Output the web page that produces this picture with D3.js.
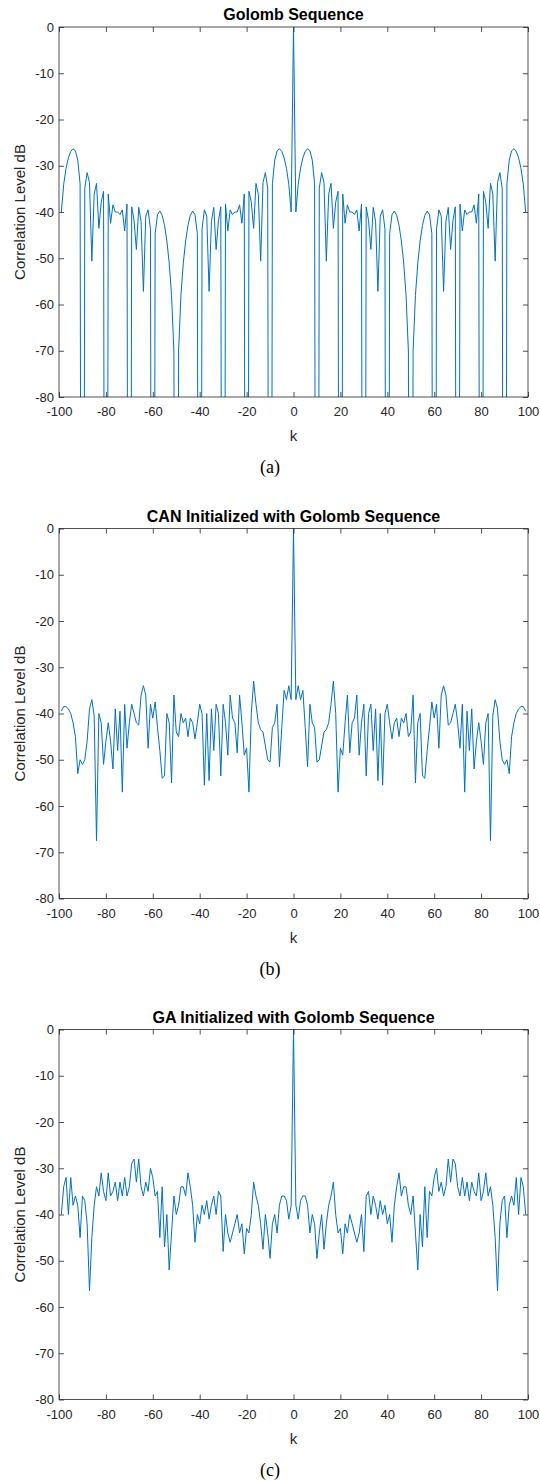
<!DOCTYPE html>
<html><head><meta charset="utf-8">
<script src="https://cdn.jsdelivr.net/npm/d3@7"></script>
<style>body{margin:0;background:#fff}svg{display:block}</style>
</head><body>
<svg id="c" width="540" height="1481"></svg>
<script>
// ---- data ----
const xTicks = [-100,-80,-60,-40,-20,0,20,40,60,80,100];
const yTicks = [0,-10,-20,-30,-40,-50,-60,-70,-80];
const titles = ["Golomb Sequence","CAN Initialized with Golomb Sequence","GA Initialized with Golomb Sequence"];
const captions = ["(a)","(b)","(c)"];
const xLabel = "k";
const yLabel = "Correlation Level dB";
const lags = d3.range(-99,100);

// (a) Golomb sequence, k=-99..99
const golomb = [
-40.00,-34.00,-30.56,-28.30,-26.90,-26.32,-26.78,-28.78,-33.91,-300,
-34.85,-31.48,-33.63,-50.62,-36.15,-33.82,-43.53,-37.87,-35.53,-300,
-36.10,-42.43,-38.46,-40.00,-40.00,-40.54,-39.55,-44.08,-38.30,-300,
-38.88,-41.82,-48.10,-39.01,-42.01,-57.17,-40.90,-39.53,-43.72,-300,
-44.65,-40.59,-39.79,-40.71,-42.90,-46.27,-51.05,-58.02,-70.06,-300,
-70.06,-58.02,-51.05,-46.27,-42.90,-40.71,-39.79,-40.59,-44.65,-300,
-43.72,-39.53,-40.90,-57.17,-42.01,-39.01,-48.10,-41.82,-38.88,-300,
-38.30,-44.08,-39.55,-40.54,-40.00,-40.00,-38.46,-42.43,-36.10,-300,
-35.53,-37.87,-43.53,-33.82,-36.15,-50.62,-33.63,-31.48,-34.85,-300,
-33.91,-28.78,-26.78,-26.32,-26.90,-28.30,-30.56,-34.00,-40.00,
0,
-40.00,-34.00,-30.56,-28.30,-26.90,-26.32,-26.78,-28.78,-33.91,-300,
-34.85,-31.48,-33.63,-50.62,-36.15,-33.82,-43.53,-37.87,-35.53,-300,
-36.10,-42.43,-38.46,-40.00,-40.00,-40.54,-39.55,-44.08,-38.30,-300,
-38.88,-41.82,-48.10,-39.01,-42.01,-57.17,-40.90,-39.53,-43.72,-300,
-44.65,-40.59,-39.79,-40.71,-42.90,-46.27,-51.05,-58.02,-70.06,-300,
-70.06,-58.02,-51.05,-46.27,-42.90,-40.71,-39.79,-40.59,-44.65,-300,
-43.72,-39.53,-40.90,-57.17,-42.01,-39.01,-48.10,-41.82,-38.88,-300,
-38.30,-44.08,-39.55,-40.54,-40.00,-40.00,-38.46,-42.43,-36.10,-300,
-35.53,-37.87,-43.53,-33.82,-36.15,-50.62,-33.63,-31.48,-34.85,-300,
-33.91,-28.78,-26.78,-26.32,-26.90,-28.30,-30.56,-34.00,-40.00
];

// (b) CAN initialized with Golomb, k=-99..99
const canSeq = [
-39.5,-38.5,-38.5,-39,-40,-42,-45,-53,-50,
-51,-50,-46,-39,-37,-40.5,-67.5,-40,-42,-51,
-46,-42,-46,-52,-39,-48,-39.5,-57,-38,-47.5,
-42,-38,-40,-42,-42.5,-36,-34,-36,-47.5,-38,
-41,-37.5,-43,-48,-54,-53.5,-40,-42,-55,-36,
-44,-45,-40,-42,-41,-45,-41,-42,-45.5,-42,
-38,-40,-55.5,-40,-54.5,-39,-48,-38,-40,-53.5,
-38,-42,-49,-36,-41,-42,-48.5,-36,-42,-49,
-47.5,-57,-40,-33,-38,-42,-43.5,-44,-47,-50,
-50.5,-43,-42,-38,-51.5,-43,-35,-37,-34,-37,
0,
-37,-34,-37,-35,-43,-51.5,-38,-42,-43,-50.5,
-50,-47,-44,-43.5,-42,-38,-33,-40,-57,-47.5,
-49,-42,-36,-48.5,-42,-41,-36,-49,-42,-38,
-53.5,-40,-38,-48,-39,-54.5,-40,-55.5,-40,-38,
-42,-45.5,-42,-41,-45,-41,-42,-40,-45,-44,
-36,-55,-42,-40,-53.5,-54,-48,-43,-37.5,-41,
-38,-47.5,-36,-34,-36,-42.5,-42,-40,-38,-42,
-47.5,-38,-57,-39.5,-48,-39,-52,-46,-42,-46,
-51,-42,-40,-67.5,-40.5,-37,-39,-46,-50,-51,
-50,-53,-45,-42,-40,-39,-38.5,-38.5,-39.5
];

// (c) GA initialized with Golomb, k=-99..99
const gaSeq = [
-40,-34,-32,-40,-32,-38,-36,-38,-45,
-36,-37,-42,-56.5,-45,-38,-34,-36,-31,-35,
-37,-31,-36,-35,-33,-37,-33,-36,-32,-36,
-34,-29,-28,-33,-28,-34,-36,-33,-35,-30,
-32,-36,-35,-45,-34,-47,-40,-52,-44,-36,
-40,-38,-34,-34,-36,-31,-34,-38,-46,-40,
-42,-38,-40,-37,-41,-38,-36,-40,-35,-36,
-48,-40,-44,-46,-44,-42,-40,-44,-42,-48.5,
-43,-44,-40,-33,-36,-38,-42,-47.5,-40,-44,
-49.5,-42,-40,-44,-38,-36,-36,-37,-41,-38,
0,
-38,-41,-37,-36,-36,-38,-44,-40,-42,-49.5,
-44,-40,-47.5,-42,-38,-36,-33,-40,-44,-43,
-48.5,-42,-44,-40,-42,-44,-46,-44,-40,-48,
-36,-35,-40,-36,-38,-41,-37,-40,-38,-42,
-40,-46,-38,-34,-31,-36,-34,-34,-38,-40,
-36,-44,-52,-40,-47,-34,-45,-35,-36,-32,
-30,-35,-33,-36,-34,-28,-33,-28,-29,-34,
-36,-32,-36,-33,-37,-33,-35,-36,-31,-37,
-35,-31,-36,-34,-38,-45,-56.5,-42,-37,-36,
-45,-38,-36,-38,-32,-40,-32,-34,-40
];

// ---- drawing ----
const series = [golomb, canSeq, gaSeq];
const left = 59, right = 528, plotH = 370;
const tops = [27, 528.5, 1029.5];
const axisColor = "#262626";
const sans = "'Liberation Sans', Arial, Helvetica, sans-serif";
const svg = d3.select("#c");
const x = d3.scaleLinear().domain([-100, 100]).range([left, right]);
const fmt = d => String(d);

series.forEach((vals, i) => {
  const top = tops[i], bottom = top + plotH;
  const y = d3.scaleLinear().domain([-80, 0]).range([bottom, top]);
  const g = svg.append("g");

  g.append("clipPath").attr("id", "clip" + i)
    .append("rect").attr("x", left).attr("y", top)
    .attr("width", right - left).attr("height", plotH);

  const pts = lags.map((k, j) => [k, vals[j]]);
  g.append("path").datum(pts)
    .attr("clip-path", `url(#clip${i})`)
    .attr("fill", "none").attr("stroke", "#0072BD")
    .attr("stroke-width", 1).attr("stroke-linejoin", "round")
    .attr("d", d3.line().x(d => x(d[0])).y(d => y(d[1])));

  const styleAxis = sel => {
    sel.select(".domain").remove();
    sel.selectAll("line").attr("stroke", axisColor).attr("stroke-width", 0.8);
    sel.selectAll("text").attr("fill", axisColor)
      .style("font-family", sans).style("font-size", "13px");
  };
  g.append("g").attr("transform", `translate(0,${bottom})`)
    .call(d3.axisBottom(x).tickValues(xTicks).tickSizeInner(-5).tickSizeOuter(0).tickPadding(10).tickFormat(fmt))
    .call(styleAxis);
  g.append("g").attr("transform", `translate(0,${top})`)
    .call(d3.axisTop(x).tickValues(xTicks).tickSizeInner(-5).tickSizeOuter(0).tickFormat(""))
    .call(styleAxis);
  g.append("g").attr("transform", `translate(${left},0)`)
    .call(d3.axisLeft(y).tickValues(yTicks).tickSizeInner(-5).tickSizeOuter(0).tickPadding(5).tickFormat(fmt))
    .call(styleAxis);
  g.append("g").attr("transform", `translate(${right},0)`)
    .call(d3.axisRight(y).tickValues(yTicks).tickSizeInner(-5).tickSizeOuter(0).tickFormat(""))
    .call(styleAxis);

  g.append("rect").attr("x", left).attr("y", top)
    .attr("width", right - left).attr("height", plotH)
    .attr("fill", "none").attr("stroke", axisColor).attr("stroke-width", 0.8);

  g.append("text").attr("x", (left + right) / 2).attr("y", top - 7)
    .attr("text-anchor", "middle").style("font-family", sans)
    .style("font-size", "16px").style("font-weight", "bold").attr("fill", "#000")
    .text(titles[i]);

  g.append("text").attr("x", (left + right) / 2).attr("y", bottom + 44)
    .attr("text-anchor", "middle").style("font-family", sans)
    .style("font-size", "15px").attr("fill", axisColor).text(xLabel);

  g.append("text").attr("transform", `translate(24.5,${(top + bottom) / 2}) rotate(-90)`)
    .attr("text-anchor", "middle").style("font-family", sans)
    .style("font-size", "15px").attr("fill", axisColor).text(yLabel);

  g.append("text").attr("x", 270).attr("y", bottom + 76)
    .attr("text-anchor", "middle")
    .style("font-family", "'Liberation Serif', 'Times New Roman', serif")
    .style("font-size", "18px").attr("fill", "#000").text(captions[i]);
});
</script>
</body></html>
